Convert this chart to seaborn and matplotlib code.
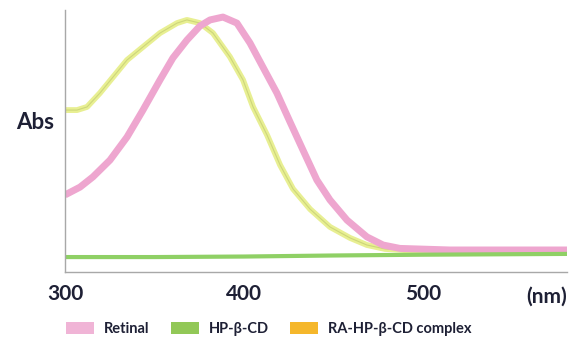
import numpy as np
import pandas as pd
import seaborn as sns
import matplotlib.pyplot as plt
from matplotlib.patches import Patch

# values (x in nm, y in arbitrary absorbance units)
retinal_nm = [300, 308.4, 315.6, 325.1, 334.6, 343.5, 353.0, 360.2, 368.0, 375.3,
              380.9, 388.1, 395.9, 403.2, 410.4, 418.2, 425.5, 432.7, 440.5, 447.8,
              457.3, 468.4, 477.4, 486.8, 514.7, 580]
retinal_abs = [0.294, 0.324, 0.363, 0.427, 0.515, 0.618, 0.733, 0.817, 0.885, 0.939,
               0.962, 0.973, 0.950, 0.874, 0.782, 0.683, 0.573, 0.466, 0.351, 0.275,
               0.198, 0.134, 0.103, 0.090, 0.084, 0.084]

complex_nm = [300, 306.7, 312.3, 319.5, 326.8, 334.6, 343.5, 353.0, 362.5, 368.0,
              375.3, 382.5, 392.0, 399.3, 404.9, 412.7, 420.0, 427.2, 436.7, 447.8,
              459.0, 468.4, 478.5, 498.0, 580]
complex_abs = [0.618, 0.618, 0.630, 0.683, 0.744, 0.809, 0.859, 0.912, 0.950, 0.962,
               0.950, 0.912, 0.821, 0.733, 0.630, 0.523, 0.408, 0.317, 0.240, 0.172,
               0.130, 0.103, 0.088, 0.080, 0.076]

hpcd_nm = [300, 350, 400, 450, 500, 580]
hpcd_abs = [0.057, 0.057, 0.059, 0.063, 0.066, 0.069]

legend_labels = ["Retinal", "HP-β-CD", "RA-HP-β-CD complex"]
legend_colors = ["#f0b4d6", "#92c857", "#f5b72b"]
x_ticks = [300, 400, 500]

TEXT = "#1e2035"

sns.set_theme(style="white")
plt.rcParams["font.family"] = ["Lato", "DejaVu Sans"]

fig = plt.figure(figsize=(5.73, 3.42), dpi=100)
ax = fig.add_axes([0.1134, 0.2047, 0.8761, 0.7661])

line_kw = dict(ax=ax, sort=False, solid_joinstyle="round", solid_capstyle="butt")
sns.lineplot(x=complex_nm, y=complex_abs, color="#e8ef92", lw=4.2, **line_kw)
sns.lineplot(x=complex_nm, y=complex_abs, color="#cdd67a", lw=0.8, **line_kw)
sns.lineplot(x=retinal_nm, y=retinal_abs, color="#eea6cf", lw=5.0, **line_kw)
sns.lineplot(x=hpcd_nm, y=hpcd_abs, color="#8fd065", lw=3.0, **line_kw)

ax.set_xlim(300, 580)
ax.set_ylim(0, 1.0)
ax.set_xticks(x_ticks)
ax.set_xticklabels([str(t) for t in x_ticks], fontsize=15, fontweight="bold", color=TEXT)
ax.set_yticks([])
ax.tick_params(axis="x", direction="in", length=5, width=1, color="#9a9a9a", pad=9)
for s in ["top", "right"]:
    ax.spines[s].set_visible(False)
for s in ["left", "bottom"]:
    ax.spines[s].set_color("#a8a8a8")
    ax.spines[s].set_linewidth(1)
ax.set_xlabel("")
ax.set_ylabel("")

ax.text(-0.022, 0.57, "Abs", transform=ax.transAxes, ha="right", va="center",
        fontsize=16, fontweight="bold", color=TEXT)
ax.text(1.0, -0.095, "(nm)", transform=ax.transAxes, ha="right", va="center",
        fontsize=15, fontweight="bold", color=TEXT)

handles = [Patch(facecolor=c, edgecolor="none") for c in legend_colors]
fig.legend(handles, legend_labels, loc="center left", bbox_to_anchor=(0.093, 0.037),
           ncol=3, frameon=False, handlelength=1.9, handleheight=0.9,
           columnspacing=1.45, handletextpad=0.7,
           prop={"size": 10.5, "weight": "bold"}, labelcolor=TEXT)

fig.savefig("out.png", dpi=100)
